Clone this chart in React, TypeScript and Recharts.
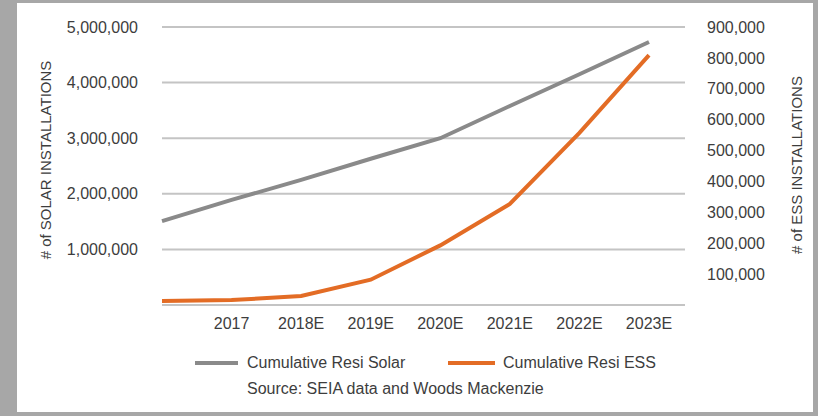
import { LineChart, Line, XAxis, YAxis, CartesianGrid } from 'recharts';

const categories = ['2016', '2017', '2018E', '2019E', '2020E', '2021E', '2022E', '2023E'];
const xTicks = ['2017', '2018E', '2019E', '2020E', '2021E', '2022E', '2023E'];
const solarValues = [1510000, 1890000, 2250000, 2630000, 3000000, 3580000, 4150000, 4730000];
const essValues = [13000, 16000, 29000, 82000, 193000, 327000, 557000, 809000];
const solarTicks = [1000000, 2000000, 3000000, 4000000, 5000000];
const essTicks = [100000, 200000, 300000, 400000, 500000, 600000, 700000, 800000, 900000];

const FONT = '"Liberation Sans", Arial, sans-serif';
const TEXT = '#3d3d3d';
const GRAY = '#8a8a8a';
const ORANGE = '#e36c25';

const data = categories.map((year, i) => ({
  year,
  solar: solarValues[i],
  ess: essValues[i],
}));

const fmt = (v: number) => v.toLocaleString('en-US');

export default function App() {
  const tick = { fill: TEXT, fontSize: 16, fontFamily: FONT };

  return (
    <div style={{ position: 'absolute', left: 0, top: 0, width: 818, height: 416, background: '#a7a7a7', fontFamily: FONT }}>
      <div style={{ position: 'absolute', left: 17, top: 3, width: 796, height: 409, background: '#fff' }} />

      <LineChart
        width={818}
        height={416}
        data={data}
        margin={{ top: 27, right: 43, left: 62, bottom: 81 }}
        style={{ position: 'absolute', left: 0, top: 0 }}
      >
        <CartesianGrid vertical={false} stroke="#c4c4c4" strokeWidth={2} />
        <XAxis
          dataKey="year"
          ticks={xTicks}
          interval={0}
          axisLine={false}
          tickLine={false}
          tickSize={0}
          tickMargin={13}
          height={30}
          padding={{ left: 0, right: 36 }}
          tick={tick}
        />
        <YAxis
          domain={[0, 5000000]}
          ticks={solarTicks}
          tickFormatter={fmt}
          axisLine={false}
          tickLine={false}
          tickSize={0}
          tickMargin={24}
          width={100}
          tick={{ ...tick, textAnchor: 'end' }}
        />
        <YAxis
          yAxisId="right"
          orientation="right"
          domain={[0, 900000]}
          ticks={essTicks}
          tickFormatter={fmt}
          axisLine={false}
          tickLine={false}
          tickSize={0}
          tickMargin={22}
          width={90}
          tick={{ ...tick, textAnchor: 'start' }}
        />
        <Line
          type="linear"
          dataKey="solar"
          stroke={GRAY}
          strokeWidth={4}
          dot={false}
          isAnimationActive={false}
        />
        <Line
          yAxisId="right"
          type="linear"
          dataKey="ess"
          stroke={ORANGE}
          strokeWidth={4}
          dot={false}
          isAnimationActive={false}
        />
      </LineChart>

      {/* axis titles */}
      <div style={{ position: 'absolute', left: 45, top: 160, transform: 'translate(-50%, -50%) rotate(-90deg)', whiteSpace: 'nowrap', fontSize: 15, color: TEXT }}>
        # of SOLAR INSTALLATIONS
      </div>
      <div style={{ position: 'absolute', left: 796, top: 165, transform: 'translate(-50%, -50%) rotate(-90deg)', whiteSpace: 'nowrap', fontSize: 15, color: TEXT }}>
        # of ESS INSTALLATIONS
      </div>

      {/* legend */}
      <div style={{ position: 'absolute', left: 195, top: 361, width: 43, height: 4, background: GRAY }} />
      <div style={{ position: 'absolute', left: 247, top: 354, fontSize: 16, lineHeight: '18px', color: TEXT, whiteSpace: 'nowrap' }}>
        Cumulative Resi Solar
      </div>
      <div style={{ position: 'absolute', left: 448, top: 361, width: 47, height: 4, background: ORANGE }} />
      <div style={{ position: 'absolute', left: 503, top: 354, fontSize: 16, lineHeight: '18px', color: TEXT, whiteSpace: 'nowrap' }}>
        Cumulative Resi ESS
      </div>
      <div style={{ position: 'absolute', left: 247, top: 380, fontSize: 16, lineHeight: '18px', color: TEXT, whiteSpace: 'nowrap' }}>
        Source: SEIA data and Woods Mackenzie
      </div>
    </div>
  );
}
